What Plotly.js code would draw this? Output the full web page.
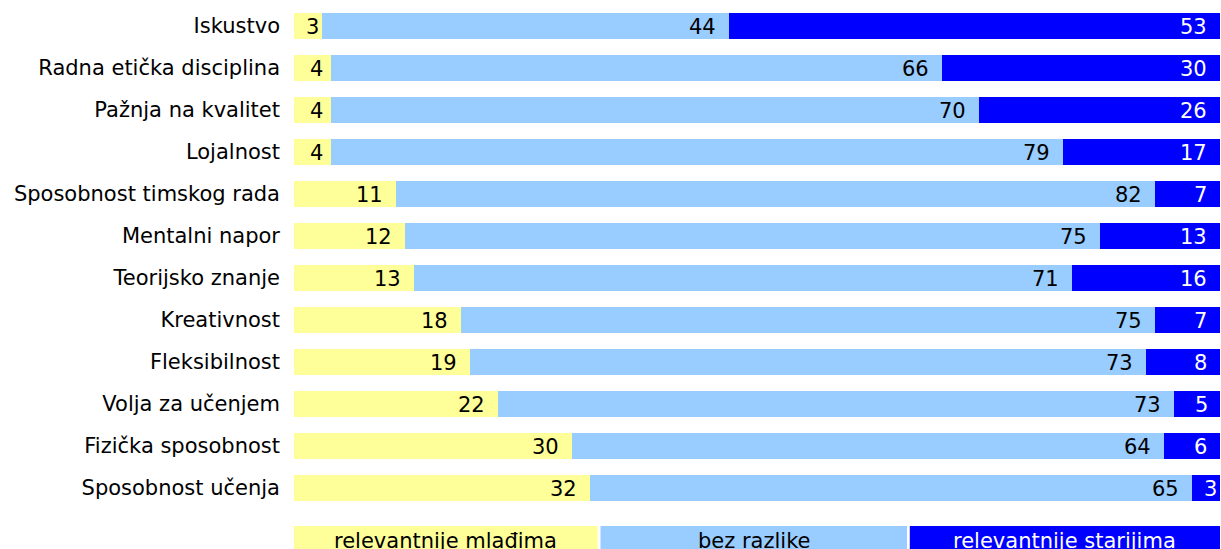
<!DOCTYPE html>
<html>
<head>
<meta charset="utf-8">
<script src="https://cdn.plot.ly/plotly-3.0.1.min.js"></script>
<style>html,body{margin:0;padding:0;background:#fff}#chart{width:1221px;height:549px}</style>
</head>
<body>
<div id="chart"></div>
<script>
var categories = ["Iskustvo","Radna etička disciplina","Pažnja na kvalitet","Lojalnost","Sposobnost timskog rada","Mentalni napor","Teorijsko znanje","Kreativnost","Fleksibilnost","Volja za učenjem","Fizička sposobnost","Sposobnost učenja"];
var mladima = [3,4,4,4,11,12,13,18,19,22,30,32];
var bezRazlike = [44,66,70,79,82,75,71,75,73,73,64,65];
var starijima = [53,30,26,17,7,13,16,7,8,5,6,3];
var seriesNames = ["relevantnije mlađima","bez razlike","relevantnije starijima"];
var colors = ["#FFFF99","#99CCFF","#0000FF"];
var textColors = ["#000000","#000000","#FFFFFF"];
var allSeries = [mladima, bezRazlike, starijima];

var FONT = "DejaVu Sans, Verdana, sans-serif";
var FS = 21;
var plotW = 1221 - 294 - 1;

var traces = allSeries.map(function(vals, i){
  return {
    type: "bar", orientation: "h",
    y: categories, x: vals,
    name: seriesNames[i],
    marker: {color: colors[i], line: {width: 0}},
    hoverinfo: "x+name"
  };
});

var annotations = [];
// value labels at the inside end of each segment
categories.forEach(function(cat, j){
  var cum = 0;
  allSeries.forEach(function(vals, i){
    cum += vals[j];
    var txt = String(vals[j]);
    var barPx = vals[j] / 100 * plotW;
    var txtPx = txt.length * 13.4;
    var pad = Math.min(11, Math.max(-2, (barPx - txtPx) / 2 - 6));
    annotations.push({
      x: cum, y: cat, xref: "x", yref: "y",
      xanchor: "right", yanchor: "middle", xshift: -pad, yshift: -1,
      showarrow: false, text: txt,
      font: {family: FONT, size: FS, color: textColors[i]}
    });
  });
});

var shapes = [];
var boxes = [[0,0.328],[0.331,0.662],[0.665,1.0]];
boxes.forEach(function(b, i){
  shapes.push({type:"rect", xref:"paper", yref:"paper", x0:b[0], x1:b[1], y0:-0.0337, y1:-0.085, fillcolor:colors[i], line:{width:0}});
  annotations.push({xref:"paper", yref:"paper", x:(b[0]+b[1])/2, y:-0.0635, xanchor:"center", yanchor:"middle", showarrow:false, text:seriesNames[i], font:{family:FONT, size:FS, color:textColors[i]}});
});

var layout = {
  width: 1221, height: 549,
  margin: {l: 294, r: 1, t: 5, b: 40, pad: 0},
  barmode: "stack",
  bargap: 0.38,
  showlegend: false,
  paper_bgcolor: "#ffffff", plot_bgcolor: "#ffffff",
  font: {family: FONT, size: FS, color: "#000"},
  xaxis: {range: [0, 100], showgrid: false, zeroline: false, showticklabels: false, showline: false, fixedrange: true},
  yaxis: {autorange: "reversed", showgrid: false, zeroline: false, showline: false, ticks: "", ticklabelstandoff: 13, tickfont: {family: FONT, size: FS, color: "#000"}, fixedrange: true},
  shapes: shapes,
  annotations: annotations
};
Plotly.newPlot("chart", traces, layout, {displayModeBar: false, staticPlot: true});
</script>
</body>
</html>
